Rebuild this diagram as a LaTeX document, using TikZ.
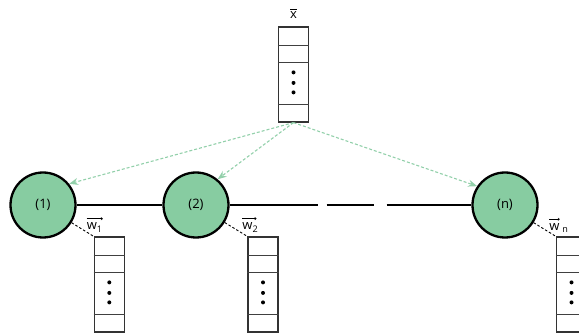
\documentclass[tikz,border=0pt]{standalone}
\usepackage{amsmath}
\usepackage{fontspec}
\setmainfont{Open Sans}
\usepackage{tikz}
\usetikzlibrary{positioning,arrows.meta}
\definecolor{unitgreen}{RGB}{135,204,161}
\definecolor{feedgreen}{RGB}{146,208,170}
\tikzstyle{unit} = [circle, draw=black, line width=2.3pt, fill=unitgreen, minimum size=65pt, inner sep=0pt, font=\fontsize{13}{15}\selectfont]
\tikzstyle{vec} = [draw=black!80, line width=1.2pt, minimum width=30pt, minimum height=95pt, inner sep=0pt]
\tikzstyle{cell} = [draw=black!75, line width=1.1pt]
\tikzstyle{feed} = [draw=feedgreen, line width=1.1pt, dash pattern=on 3pt off 2pt, -{Stealth[length=9pt,width=7pt,inset=3pt]}]
\tikzstyle{link} = [line width=2.4pt]
\tikzstyle{tie} = [dash pattern=on 2.5pt off 2pt, line width=0.9pt]
\tikzstyle{lbl} = [inner sep=0pt, font=\fontsize{13}{15}\selectfont]
\tikzstyle{bar} = [line width=0.6pt, -{To[length=2pt,width=3pt]}]

\begin{document}
\begin{tikzpicture}[x=1pt, y=-1pt]
    \useasboundingbox (0,0) rectangle (579,334);
    % input vector and units
    \node[vec] (xv) at (293.5,74.5) {};
    \node[unit] (n1) at (43,205) {(1)};
    \node[unit] (n2) at (196,205) {(2)};
    \node[unit] (nn) at (505,205) {(n)};
    % weight vectors
    \node[vec] (w1) at (109.3,284.5) {};
    \node[vec] (w2) at (263,284.5) {};
    \node[vec] (wn) at (571.5,284.5) {};
    \foreach \v in {xv,w1,w2,wn} {
        \draw[cell] ([yshift=-19pt]\v.north west) -- ([yshift=-19pt]\v.north east);
        \draw[cell] ([yshift=-36pt]\v.north west) -- ([yshift=-36pt]\v.north east);
        \draw[cell] ([yshift=-78pt]\v.north west) -- ([yshift=-78pt]\v.north east);
        \foreach \d in {46,56.5,66}
            \fill ([yshift=-\d pt]\v.north) circle (2pt);
    }
    \node[lbl, above = 8pt of xv] (xl) {$\overline{\text{x}}$};
    \node[lbl, above = 4pt of w1.north west, xshift=1pt] (w1l) {w$_{\text{1}}$};
    \node[lbl, above = 4pt of w2.north west, xshift=3pt] (w2l) {w$_{\text{2}}$};
    \node[lbl, above = 4pt of wn.north west, xshift=3pt] (wnl) {w\hspace{3pt}$_{\text{n}}$};
    \draw[bar] ([yshift=4pt]w1l.north west) -- ([yshift=4pt]w1l.north east);
    \draw[bar] ([yshift=4pt]w2l.north west) -- ([yshift=4pt,xshift=-2pt]w2l.north east);
    \draw[bar] ([yshift=4pt]wnl.north west) -- ([yshift=4pt,xshift=-9pt]wnl.north east);
    % links between units
    \draw[link] (n1) -- (n2);
    \draw[link, dash pattern=on 88pt off 9pt on 47.5pt off 12.5pt on 120pt] (n2) -- (nn);
    % weights attached to units
    \draw[tie] (n1) -- (w1.north west);
    \draw[tie] (n2) -- (w2.north west);
    \draw[tie] (nn) -- (wn.north west);
    % input fed to every unit
    \draw[feed] (xv.south) -- (n1.39);
    \draw[feed] (xv.south) -- (n2.50);
    \draw[feed] (xv.south) -- (nn.146);
\end{tikzpicture}
\end{document}
